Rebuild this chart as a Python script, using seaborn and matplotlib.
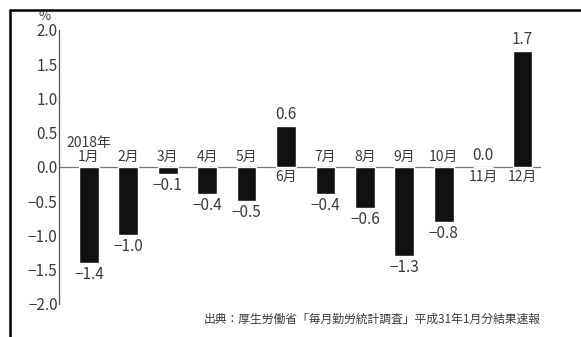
import numpy as np
import pandas as pd
import matplotlib.pyplot as plt
import seaborn as sns

months = ["1月", "2月", "3月", "4月", "5月", "6月",
          "7月", "8月", "9月", "10月", "11月", "12月"]
values = [-1.4, -1.0, -0.1, -0.4, -0.5, 0.6,
          -0.4, -0.6, -1.3, -0.8, 0.0, 1.7]
yticks = [-2.0, -1.5, -1.0, -0.5, 0.0, 0.5, 1.0, 1.5, 2.0]
source = "出典：厚生労働省「毎月勤労統計調査」平成31年1月分結果速報"

df = pd.DataFrame({"month": months, "value": values})

sns.set_style("white")
plt.rcParams['font.family'] = ['Noto Sans CJK JP', 'DejaVu Sans']
plt.rcParams['axes.unicode_minus'] = True

grey = "#3a3a3a"

fig = plt.figure(figsize=(5.81, 3.37), dpi=100)
ax = fig.add_axes([0.1015, 0.098, 0.829, 0.813])

sns.barplot(data=df, x="month", y="value", order=months, color="#111111",
            width=0.5, saturation=1, ax=ax)

ax.set_ylim(-2.0, 2.0)
ax.set_xlim(-0.76, 11.46)
ax.set_yticks(yticks)
ax.set_yticklabels([f"{t:.1f}".replace("-", "\u2212") for t in yticks],
                   fontsize=11, color=grey)
ax.tick_params(axis="y", direction="in", length=4, width=0.9, color="#555555", pad=1)
ax.set_xticks([])
ax.set_xlabel("")
ax.set_ylabel("")

sns.despine(ax=ax, top=True, right=True, bottom=True)
ax.spines["left"].set_color("#555555")
ax.spines["left"].set_linewidth(0.9)
ax.axhline(0, color="#777777", lw=0.9, zorder=0)

for i, (m, v) in enumerate(zip(months, values)):
    txt = f"{v:.1f}".replace("-", "\u2212")
    if v < 0:
        ax.annotate(txt, (i, v), xytext=(0, -2), textcoords="offset points",
                    ha="center", va="top", fontsize=11, color=grey)
        lab = "2018年\n" + m if i == 0 else m
        ax.annotate(lab, (i, 0), xytext=(0, 2), textcoords="offset points",
                    ha="center", va="bottom", fontsize=10, color=grey,
                    linespacing=1.0)
    else:
        ax.annotate(txt, (i, v), xytext=(0, 2), textcoords="offset points",
                    ha="center", va="bottom", fontsize=11, color=grey)
        ax.annotate(m, (i, 0), xytext=(0, -2), textcoords="offset points",
                    ha="center", va="top", fontsize=10, color=grey)

fig.text(45 / 581, 1 - 16 / 337, "%", ha="center", va="center", fontsize=9.5, color=grey)
fig.text(541 / 581, 1 - 319 / 337, source, ha="right", va="center",
         fontsize=8.5, color=grey)

# outer frame (top and left edges only, cropped image)
fig.add_artist(plt.Line2D([10 / 581, 10 / 581], [0, 1 - 10 / 337],
                          transform=fig.transFigure, color="black", lw=1.8))
fig.add_artist(plt.Line2D([10 / 581, 1], [1 - 10 / 337, 1 - 10 / 337],
                          transform=fig.transFigure, color="black", lw=1.8))

fig.savefig("out.png", dpi=100)
